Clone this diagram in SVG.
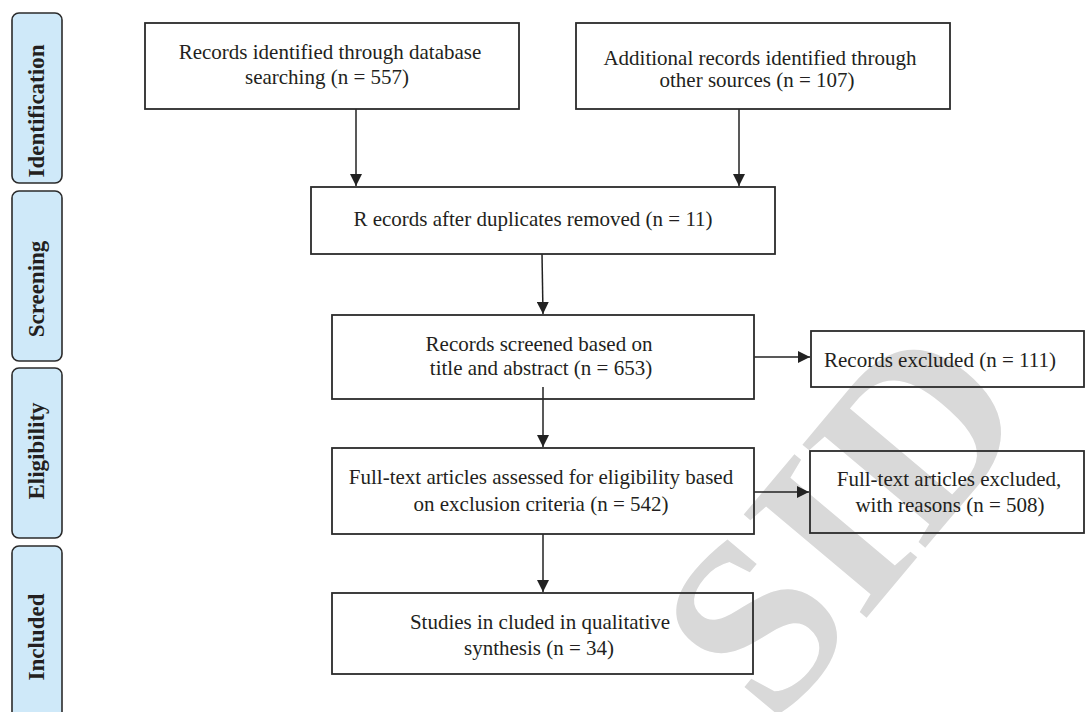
<svg xmlns="http://www.w3.org/2000/svg" width="1085" height="712" viewBox="0 0 1085 712">
  <defs>
    <marker id="arr" markerUnits="userSpaceOnUse" markerWidth="12" markerHeight="12" refX="12" refY="6" orient="auto">
      <path d="M0,0 L12,6 L0,12 z" fill="#222"/>
    </marker>
    <style>
      .phase { fill: #cfe9f9; stroke: #2b2b2b; stroke-width: 1.6; }
      .phase-t { font-family: "Liberation Serif", "DejaVu Serif", serif; font-weight: bold; font-size: 23px; fill: #231f20; text-anchor: middle; }
      .box { fill: none; stroke: #2b2b2b; stroke-width: 1.8; }
      .t { font-family: "Liberation Serif", "DejaVu Serif", serif; font-size: 21px; fill: #231f20; text-anchor: middle; }
      .conn { stroke: #222; stroke-width: 1.5; fill: none; marker-end: url(#arr); }
      .wm { font-family: "Liberation Serif", "DejaVu Serif", serif; font-weight: bold; font-size: 245px; fill: #d9d9d9; text-anchor: middle; }
    </style>
  </defs>
  <rect width="1085" height="712" fill="#ffffff"/>

  <g id="watermark">
    <text class="wm" transform="translate(905,572) rotate(-50)">SID</text>
  </g>

  <g id="phase-identification">
    <rect class="phase" x="12" y="13" width="50" height="170" rx="7"/>
    <text class="phase-t" transform="translate(44,111) rotate(-90)">Identification</text>
  </g>
  <g id="phase-screening">
    <rect class="phase" x="12" y="191" width="50" height="170" rx="7"/>
    <text class="phase-t" transform="translate(44,289) rotate(-90)">Screening</text>
  </g>
  <g id="phase-eligibility">
    <rect class="phase" x="12" y="368" width="50" height="170" rx="7"/>
    <text class="phase-t" transform="translate(44,451) rotate(-90)">Eligibility</text>
  </g>
  <g id="phase-included">
    <rect class="phase" x="12" y="546" width="50" height="185" rx="7"/>
    <text class="phase-t" transform="translate(44,637) rotate(-90)">Included</text>
  </g>

  <g id="connectors">
    <line class="conn" x1="356" y1="109" x2="356" y2="186"/>
    <line class="conn" x1="739" y1="109" x2="739" y2="186"/>
    <line class="conn" x1="542" y1="254" x2="543" y2="314"/>
    <line class="conn" x1="754" y1="357" x2="810" y2="357"/>
    <line class="conn" x1="543" y1="387" x2="543" y2="447"/>
    <line class="conn" x1="754" y1="492" x2="809" y2="492"/>
    <line class="conn" x1="543" y1="534" x2="543" y2="592"/>
  </g>

  <g id="node-database">
    <rect class="box" x="145" y="23" width="374" height="86"/>
    <text class="t" x="330" y="59">Records identified through database</text>
    <text class="t" x="327" y="84">searching (n = 557)</text>
  </g>
  <g id="node-other-sources">
    <rect class="box" x="576" y="23" width="374" height="86"/>
    <text class="t" x="760" y="65">Additional records identified through</text>
    <text class="t" x="757" y="87">other sources (n = 107)</text>
  </g>
  <g id="node-duplicates">
    <rect class="box" x="311" y="187" width="464" height="67"/>
    <text class="t" x="533" y="226">R ecords after duplicates removed (n = 11)</text>
  </g>
  <g id="node-screened">
    <rect class="box" x="332" y="315" width="422" height="84"/>
    <text class="t" x="539" y="351">Records screened based on</text>
    <text class="t" x="541" y="375">title and abstract (n = 653)</text>
  </g>
  <g id="node-records-excluded">
    <rect class="box" x="811" y="331" width="273" height="56"/>
    <text class="t" x="940" y="367">Records excluded (n = 111)</text>
  </g>
  <g id="node-fulltext">
    <rect class="box" x="332" y="448" width="422" height="86"/>
    <text class="t" x="541" y="484">Full-text articles assessed for eligibility based</text>
    <text class="t" x="541" y="511">on exclusion criteria (n = 542)</text>
  </g>
  <g id="node-fulltext-excluded">
    <rect class="box" x="810" y="451" width="274" height="82"/>
    <text class="t" x="949" y="486">Full-text articles excluded,</text>
    <text class="t" x="950" y="512">with reasons (n = 508)</text>
  </g>
  <g id="node-included">
    <rect class="box" x="332" y="593" width="421" height="81"/>
    <text class="t" x="540" y="629">Studies in cluded in qualitative</text>
    <text class="t" x="539" y="655">synthesis (n = 34)</text>
  </g>
</svg>
